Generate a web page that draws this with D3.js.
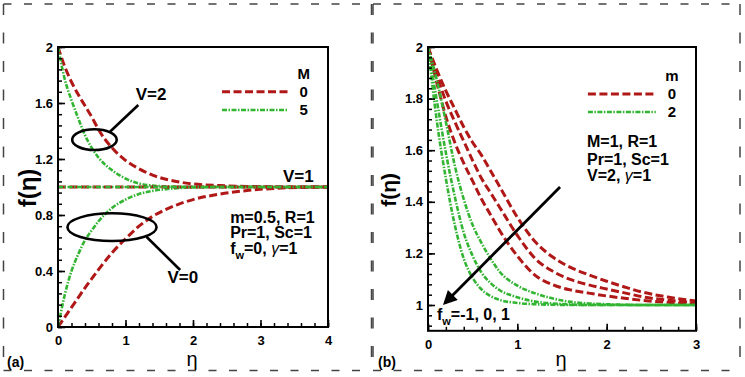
<!DOCTYPE html>
<html>
<head>
<meta charset="utf-8">
<script src="https://cdn.jsdelivr.net/npm/d3@7"></script>
<style>
  html, body { margin: 0; padding: 0; background: #fff; }
  svg { display: block; font-family: "Liberation Sans", Arial, sans-serif; }
  .tick text { font-weight: bold; font-size: 13px; fill: #000; }
</style>
</head>
<body>
<div id="chart"></div>
<script>
const W = 745;
const H = 377;

// panel (a): V = 0, 1, 2 for M = 0 (red) and M = 5 (green)
const etaA = [0, 0.1, 0.2, 0.3, 0.4, 0.5, 0.6, 0.8, 1.0, 1.2, 1.4, 1.6, 1.8, 2.0, 2.4, 2.8, 3.2, 3.6, 4.0];
const aRedV2 = [2.0, 1.86, 1.75, 1.66, 1.58, 1.5, 1.41, 1.28, 1.19, 1.13, 1.085, 1.055, 1.035, 1.022, 1.01, 1.004, 1.001, 1.0, 1.0];
const aGreenV2 = [2.0, 1.77, 1.62, 1.49, 1.37, 1.28, 1.21, 1.12, 1.06, 1.025, 1.01, 1.004, 1.001, 1.0, 1.0, 1.0, 1.0, 1.0, 1.0];
const aRedV1 = [1, 1, 1, 1, 1, 1, 1, 1, 1, 1, 1, 1, 1, 1, 1, 1, 1, 1, 1];
const aGreenV1 = [1, 1, 1, 1, 1, 1, 1, 1, 1, 1, 1, 1, 1, 1, 1, 1, 1, 1, 1];
const aRedV0 = [0, 0.07, 0.14, 0.21, 0.28, 0.345, 0.41, 0.53, 0.63, 0.72, 0.79, 0.84, 0.88, 0.91, 0.95, 0.975, 0.99, 0.997, 1.0];
const aGreenV0 = [0, 0.23, 0.4, 0.52, 0.62, 0.69, 0.755, 0.85, 0.91, 0.95, 0.972, 0.985, 0.993, 0.997, 1.0, 1.0, 1.0, 1.0, 1.0];

// panel (b): fw = -1, 0, 1 for m = 0 (red) and m = 2 (green)
const etaB = [0, 0.1, 0.2, 0.3, 0.4, 0.5, 0.6, 0.7, 0.8, 1.0, 1.2, 1.4, 1.6, 1.8, 2.0, 2.2, 2.4, 2.7, 3.0];
const bRedFwM1 = [2.0, 1.91, 1.83, 1.76, 1.69, 1.63, 1.58, 1.52, 1.46, 1.34, 1.245, 1.185, 1.145, 1.117, 1.092, 1.07, 1.05, 1.03, 1.015];
const bRedFw0 = [2.0, 1.89, 1.79, 1.71, 1.635, 1.56, 1.49, 1.435, 1.38, 1.27, 1.18, 1.13, 1.098, 1.078, 1.062, 1.047, 1.032, 1.018, 1.009];
const bRedFw1 = [2.0, 1.86, 1.73, 1.63, 1.55, 1.48, 1.41, 1.35, 1.29, 1.19, 1.115, 1.078, 1.058, 1.046, 1.035, 1.026, 1.018, 1.01, 1.004];
const bGreenFwM1 = [2.0, 1.87, 1.71, 1.54, 1.41, 1.31, 1.24, 1.18, 1.13, 1.075, 1.045, 1.025, 1.012, 1.006, 1.003, 1.001, 1.0, 1.0, 1.0];
const bGreenFw0 = [2.0, 1.79, 1.59, 1.42, 1.28, 1.19, 1.125, 1.085, 1.058, 1.03, 1.013, 1.006, 1.002, 1.0, 1.0, 1.0, 1.0, 1.0, 1.0];
const bGreenFw1 = [2.0, 1.71, 1.49, 1.31, 1.18, 1.105, 1.06, 1.035, 1.02, 1.008, 1.003, 1.001, 1.0, 1.0, 1.0, 1.0, 1.0, 1.0, 1.0];

const yTicksA = [0, 0.4, 0.8, 1.2, 1.6, 2];
const yTicksB = [1, 1.2, 1.4, 1.6, 1.8, 2];

const RED = '#b01818';
const GREEN = '#33b533';
const redDash = '8,3.5';
const greenDash = '5,1.5,1.5,1.5';

const svg = d3.select('#chart').append('svg')
  .attr('width', W)
  .attr('height', H);

// dashed outer frames of the two panels
function frame(x0, x1, y0, y1) {
  const g = svg.append('g').attr('stroke', '#444').attr('stroke-width', 1.5).attr('fill', 'none');
  g.append('line').attr('x1', x0).attr('x2', x1).attr('y1', y0).attr('y2', y0).attr('stroke-dasharray', '8,12.5');
  g.append('line').attr('x1', x0).attr('x2', x1).attr('y1', y1).attr('y2', y1).attr('stroke-dasharray', '8,12.5');
  g.append('line').attr('x1', x0).attr('x2', x0).attr('y1', y0).attr('y2', y1).attr('stroke-dasharray', '11,17.5');
  g.append('line').attr('x1', x1).attr('x2', x1).attr('y1', y0).attr('y2', y1).attr('stroke-dasharray', '11,17.5');
}
frame(3.5, 371.5, 4, 370.5);
frame(373, 740, 4, 370.5);

function panel(opt) {
  const x = d3.scaleLinear().domain(opt.xDomain).range([opt.left, opt.right]);
  const y = d3.scaleLinear().domain(opt.yDomain).range([opt.bottom, opt.top]);
  const g = svg.append('g');

  const clipId = 'clip-' + opt.id;
  g.append('clipPath').attr('id', clipId)
    .append('rect')
    .attr('x', opt.left).attr('y', opt.top)
    .attr('width', opt.right - opt.left).attr('height', opt.bottom - opt.top);

  const line = d3.line()
    .x((d) => x(d[0]))
    .y((d) => y(d[1]))
    .curve(d3.curveMonotoneX);

  const curves = g.append('g').attr('clip-path', `url(#${clipId})`).attr('fill', 'none');
  opt.series.forEach((s) => {
    curves.append('path')
      .datum(opt.eta.map((e, i) => [e, s.values[i]]))
      .attr('stroke', s.color)
      .attr('stroke-width', s.color === RED ? 3 : 2.6)
      .attr('stroke-dasharray', s.dash)
      .attr('d', line);
  });

  // minor ticks
  g.append('g')
    .attr('transform', `translate(0,${opt.bottom})`)
    .call(d3.axisBottom(x).tickValues(opt.xMinor).tickSize(-4).tickFormat(''))
    .call((a) => a.select('.domain').remove())
    .call((a) => a.selectAll('line').attr('stroke', '#000').attr('stroke-width', 1.5));
  g.append('g')
    .attr('transform', `translate(${opt.left},0)`)
    .call(d3.axisLeft(y).tickValues(opt.yMinor).tickSize(-4).tickFormat(''))
    .call((a) => a.select('.domain').remove())
    .call((a) => a.selectAll('line').attr('stroke', '#000').attr('stroke-width', 1.5));

  // major ticks
  g.append('g')
    .attr('transform', `translate(0,${opt.bottom})`)
    .call(d3.axisBottom(x).tickValues(opt.xTicks).tickSize(-7).tickPadding(9).tickFormat(d3.format('~g')))
    .call((a) => a.select('.domain').remove())
    .call((a) => a.selectAll('line').attr('stroke', '#000').attr('stroke-width', 1.6));
  g.append('g')
    .attr('transform', `translate(${opt.left},0)`)
    .call(d3.axisLeft(y).tickValues(opt.yTicks).tickSize(-7).tickPadding(5).tickFormat(d3.format('~g')))
    .call((a) => a.select('.domain').remove())
    .call((a) => a.selectAll('line').attr('stroke', '#000').attr('stroke-width', 1.6));
  g.selectAll('.tick text').attr('font-family', '"Liberation Sans", Arial, sans-serif');

  g.append('rect')
    .attr('x', opt.left).attr('y', opt.top)
    .attr('width', opt.right - opt.left).attr('height', opt.bottom - opt.top)
    .attr('fill', 'none').attr('stroke', '#000').attr('stroke-width', 2);

  // axis titles
  g.append('text')
    .attr('x', (opt.left + opt.right) / 2 - 1)
    .attr('y', 366)
    .attr('text-anchor', 'middle')
    .attr('font-size', 20)
    .text('η');
  g.append('text')
    .attr('transform', `translate(${opt.yTitleX},${(opt.top + opt.bottom) / 2 + 1}) rotate(-90)`)
    .attr('text-anchor', 'middle')
    .attr('font-size', opt.yTitleSize)
    .attr('font-weight', 'bold')
    .text('f(η)');

  g.append('text')
    .attr('x', opt.tagX).attr('y', 367)
    .attr('font-size', 14).attr('font-weight', 'bold')
    .text(opt.tag);

  // legend
  const lg = g.append('g').attr('font-weight', 'bold').attr('font-size', 15);
  lg.append('text')
    .attr('x', x(opt.legend.titleX)).attr('y', y(opt.legend.titleY))
    .attr('text-anchor', 'middle')
    .text(opt.legend.title);
  opt.legend.items.forEach((it) => {
    lg.append('line')
      .attr('x1', x(opt.legend.x0)).attr('x2', x(opt.legend.x1))
      .attr('y1', y(it.y)).attr('y2', y(it.y))
      .attr('stroke', it.color)
      .attr('stroke-width', it.color === RED ? 3 : 2.6)
      .attr('stroke-dasharray', it.dash);
    lg.append('text')
      .attr('x', x(opt.legend.titleX)).attr('y', y(it.y))
      .attr('dy', '0.36em')
      .attr('text-anchor', 'middle')
      .text(it.label);
  });

  // parameter block
  const pg = g.append('g').attr('font-weight', 'bold').attr('font-size', 16);
  opt.params.forEach((p) => {
    const t = pg.append('text').attr('x', x(p.x)).attr('y', y(p.y));
    p.parts.forEach((part) => {
      const ts = t.append('tspan').text(part.t);
      if (part.sub) ts.attr('font-size', 11).attr('dy', 5);
      if (part.up) ts.attr('dy', -5);
      if (part.greek) ts.attr('font-weight', 'normal').attr('font-style', 'italic');
    });
  });

  return { g, x, y };
}

const pa = panel({
  id: 'a',
  left: 58, right: 328, top: 47, bottom: 327,
  xDomain: [0, 4], yDomain: [0, 2],
  eta: etaA,
  xTicks: [0, 1, 2, 3, 4],
  xMinor: d3.range(0, 4.01, 0.2),
  yTicks: yTicksA,
  yMinor: d3.range(0, 2.01, 0.08),
  yTitleX: 36, yTitleSize: 24,
  tag: '(a)', tagX: 7,
  series: [
    { values: aRedV2, color: RED, dash: redDash },
    { values: aGreenV2, color: GREEN, dash: greenDash },
    { values: aRedV0, color: RED, dash: redDash },
    { values: aGreenV0, color: GREEN, dash: greenDash },
    { values: aRedV1, color: RED, dash: redDash },
    { values: aGreenV1, color: GREEN, dash: greenDash },
  ],
  legend: {
    title: 'M', titleX: 3.64, titleY: 1.77, x0: 2.43, x1: 3.41,
    items: [
      { label: '0', y: 1.68, color: RED, dash: redDash },
      { label: '5', y: 1.55, color: GREEN, dash: greenDash },
    ],
  },
  params: [
    { x: 2.55, y: 0.745, parts: [{ t: 'm=0.5, R=1' }] },
    { x: 2.55, y: 0.636, parts: [{ t: 'Pr=1, Sc=1' }] },
    { x: 2.55, y: 0.521, parts: [{ t: 'f' }, { t: 'w', sub: true }, { t: '=0, ', up: true }, { t: 'γ', greek: true }, { t: '=1' }] },
  ],
});

// ellipses, leaders and V labels in panel (a)
const ellipses = [
  { cx: 0.54, cy: 1.338, rx: 0.33, ry: 0.074, lx1: 0.77, ly1: 1.395, lx2: 1.19, ly2: 1.586, label: 'V=2', tx: 1.38, ty: 1.62 },
  { cx: 0.8, cy: 0.713, rx: 0.66, ry: 0.099, lx1: 1.31, ly1: 0.645, lx2: 1.81, ly2: 0.407, label: 'V=0', tx: 1.85, ty: 0.314 },
];
ellipses.forEach((e) => {
  pa.g.append('ellipse')
    .attr('cx', pa.x(e.cx)).attr('cy', pa.y(e.cy))
    .attr('rx', pa.x(e.rx) - pa.x(0)).attr('ry', pa.y(0) - pa.y(e.ry))
    .attr('fill', 'none').attr('stroke', '#000').attr('stroke-width', 2.6);
  pa.g.append('line')
    .attr('x1', pa.x(e.lx1)).attr('y1', pa.y(e.ly1))
    .attr('x2', pa.x(e.lx2)).attr('y2', pa.y(e.ly2))
    .attr('stroke', '#000').attr('stroke-width', 2.6);
  pa.g.append('text')
    .attr('x', pa.x(e.tx)).attr('y', pa.y(e.ty))
    .attr('text-anchor', 'middle')
    .attr('font-size', 17).attr('font-weight', 'bold')
    .text(e.label);
});
pa.g.append('text')
  .attr('x', pa.x(3.56)).attr('y', pa.y(1.036))
  .attr('text-anchor', 'middle')
  .attr('font-size', 17).attr('font-weight', 'bold')
  .text('V=1');

const pb = panel({
  id: 'b',
  left: 428, right: 696, top: 47, bottom: 330.8,
  xDomain: [0, 3], yDomain: [0.9, 2],
  eta: etaB,
  xTicks: [0, 1, 2, 3],
  xMinor: d3.range(0, 3.01, 0.2),
  yTicks: yTicksB,
  yMinor: d3.range(0.92, 2.001, 0.04),
  yTitleX: 396, yTitleSize: 21,
  tag: '(b)', tagX: 378,
  series: [
    { values: bRedFwM1, color: RED, dash: redDash },
    { values: bRedFw0, color: RED, dash: redDash },
    { values: bRedFw1, color: RED, dash: redDash },
    { values: bGreenFwM1, color: GREEN, dash: greenDash },
    { values: bGreenFw0, color: GREEN, dash: greenDash },
    { values: bGreenFw1, color: GREEN, dash: greenDash },
  ],
  legend: {
    title: 'm', titleX: 2.73, titleY: 1.87, x0: 1.79, x1: 2.55,
    items: [
      { label: '0', y: 1.818, color: RED, dash: redDash },
      { label: '2', y: 1.748, color: GREEN, dash: greenDash },
    ],
  },
  params: [
    { x: 1.78, y: 1.612, parts: [{ t: 'M=1, R=1' }] },
    { x: 1.78, y: 1.543, parts: [{ t: 'Pr=1, Sc=1' }] },
    { x: 1.78, y: 1.481, parts: [{ t: 'V=2, ' }, { t: 'γ', greek: true }, { t: '=1' }] },
    { x: 0.1, y: 0.942, parts: [{ t: 'f' }, { t: 'w', sub: true }, { t: '=-1, 0, 1', up: true }] },
  ],
});

// arrow in panel (b)
svg.append('defs').append('marker')
  .attr('id', 'arrowhead')
  .attr('viewBox', '0 0 10 10')
  .attr('refX', 8).attr('refY', 5)
  .attr('markerWidth', 6.5).attr('markerHeight', 5)
  .attr('orient', 'auto')
  .append('path').attr('d', 'M0,0 L10,5 L0,10 z').attr('fill', '#000');
pb.g.append('line')
  .attr('x1', pb.x(1.478)).attr('y1', pb.y(1.457))
  .attr('x2', pb.x(0.19)).attr('y2', pb.y(1.008))
  .attr('stroke', '#000').attr('stroke-width', 2.8)
  .attr('marker-end', 'url(#arrowhead)');
</script>
</body>
</html>
